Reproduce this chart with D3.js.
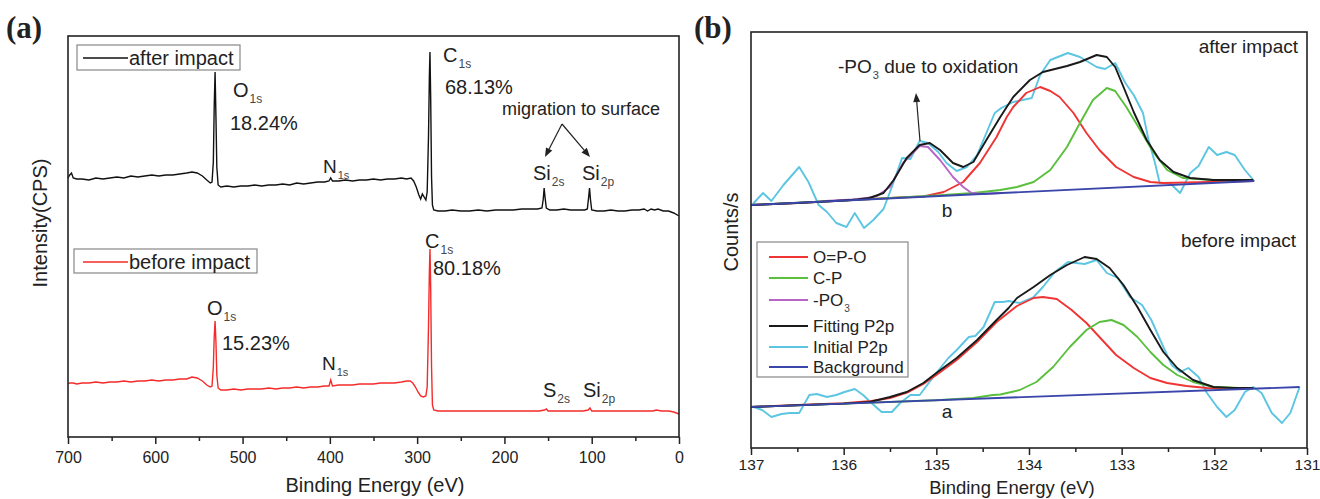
<!DOCTYPE html>
<html>
<head>
  <meta charset="UTF-8">
  <title>XPS survey and P2p spectra</title>
  <script src="https://d3js.org/d3.v7.min.js"></script>
  <style>
    body { margin: 0; background: #fff; }
    svg text { font-family: "Liberation Sans", Arial, sans-serif; fill: #222; }
  </style>
</head>
<body>
<div id="chart"></div>
<script>
// ---- panel (a): survey spectra [binding energy eV, intensity a.u.] ----
const afterSurvey = [
  [700,259],[698,262],[696,264],[694,259],[690,258],[684,258],[676,257],[668,259],[660,258],[652,259],[644,260],[636,259],
  [628,261],[620,260],[612,261],[604,262],[596,261],[588,262],[580,262],[572,263],[564,264],[558,265],[552,264],[546,261],
  [541,257],[537,254],[535,255],[533.5,275],[532.5,330],[531.5,365],[530.5,320],[529.5,270],[528,252],[525,250],[518,251],
  [510,250],[502,251],[494,251],[486,252],[478,251],[470,252],[462,252],[454,253],[446,252],[438,254],[430,253],[422,254],
  [414,255],[406,255],[401,256],[399,259],[397,256],[390,256],[382,257],[374,256],[366,257],[358,257],[350,258],[342,257],
  [334,258],[326,258],[318,259],[312,258],[307,259],[304,256],[301,250],[298,242],[296,238],[294,243],[292,240],[290,237],
  [288.5,245],[287,300],[286,360],[285.3,385],[284.5,340],[283.5,260],[282.5,232],[281,227],[276,226],[268,226],[260,227],
  [250,226],[240,226],[230,227],[220,226],[210,227],[200,227],[190,227],[180,228],[170,228],[162,228],[157,229],[155.5,238],
  [154.5,249],[153.5,240],[152,229],[148,227],[140,227],[132,228],[124,227],[116,227],[108,227],[105,228],[103.5,240],
  [102.5,249],[101.5,238],[100,227],[94,226],[86,226],[78,227],[70,226],[62,226],[54,227],[46,227],[40,228],[36,226],
  [32,228],[28,227],[24,228],[18,226],[12,226],[6,224],[0,221]
];
const beforeSurvey = [
  [700,53],[698,54],[694,54],[690,53],[684,54],[676,54],[668,55],[660,54],[652,55],[644,55],[636,56],[628,55],[620,56],
  [612,56],[604,57],[596,56],[588,57],[580,57],[572,58],[564,58],[558,60],[552,59],[546,56],[541,52],[537,50],[535,51],
  [533.5,70],[532.5,100],[531.5,116],[530.5,95],[529.5,62],[528,49],[525,47],[518,47],[510,48],[502,47],[494,48],[486,48],
  [478,48],[470,49],[462,48],[454,49],[446,49],[438,50],[430,49],[422,50],[414,50],[406,51],[401,51],[399,57],[397,51],
  [390,52],[382,52],[374,52],[366,53],[358,53],[350,53],[342,54],[334,54],[326,54],[318,55],[312,56],[308,56],[305,54],
  [302,50],[299,45],[296,41],[293,40],[290,41],[288.5,50],[287,110],[286,165],[285.3,188],[284.5,150],[283.5,70],[282.5,32],
  [281,27],[276,26],[268,26],[260,26],[250,26],[240,26],[230,26],[220,26],[210,26],[200,26],[190,26],[180,26],[170,26],
  [160,26],[154,27],[152,28],[150,26],[140,26],[130,26],[120,26],[110,26],[104,27],[102,29],[100,26],[90,26],[80,26],
  [70,26],[60,26],[50,26],[40,26],[30,26],[26,27],[20,26],[12,26],[6,25],[0,23]
];
const surveyMajorTicks = [700, 600, 500, 400, 300, 200, 100, 0];
const surveyMinorTicks = [650, 550, 450, 350, 250, 150, 50];

// ---- panel (b): P2p high resolution [binding energy eV, counts a.u.] ----
const cyanAfter = [
  [136.98,244],[136.87,255],[136.78,247],[136.65,263],[136.48,281],[136.38,266],[136.27,243],[136.18,236],[136.08,225],
  [135.97,221],[135.88,235],[135.78,220],[135.68,228],[135.57,239],[135.48,261],[135.37,290],[135.28,289],[135.18,307],
  [135.09,305],[134.98,296],[134.89,285],[134.78,277],[134.67,281],[134.56,293],[134.46,315],[134.37,335],[134.3,340],
  [134.17,346],[133.97,350],[133.88,373],[133.77,388],[133.58,395],[133.45,391],[133.27,381],[133.18,379],[133.07,385],
  [132.96,365],[132.87,353],[132.77,335],[132.71,308],[132.64,285],[132.59,265],[132.48,265],[132.37,255],[132.26,275],
  [132.17,282],[132.06,301],[131.97,293],[131.87,296],[131.78,293],[131.67,278],[131.57,267]
];
const fitAfter = [
  [137,243],[136.5,245],[136,247.5],[135.85,248.5],[135.72,250],[135.57,255],[135.46,268],[135.32,290],[135.18,303],
  [135.07,305],[134.96,298],[134.82,285],[134.71,281],[134.6,286],[134.46,308],[134.31,331],[134.17,351],[133.99,368],
  [133.85,376],[133.59,382],[133.45,386],[133.27,393],[133.16,391],[133.07,381],[132.98,361],[132.87,336],[132.73,308],
  [132.59,288],[132.44,276],[132.26,270],[132.01,268],[131.58,268]
];
const opoAfter = [
  [137,243],[136.5,245],[136,247.5],[135.6,249.5],[135.4,250.5],[135.14,251.5],[134.92,256],[134.71,266],[134.53,285],
  [134.35,311],[134.24,331],[134.17,341],[134.03,355],[133.88,361],[133.77,357],[133.67,351],[133.52,335],[133.38,315],
  [133.24,298],[133.06,281],[132.87,271],[132.69,266],[132.55,265],[132.3,265.5],[131.57,267]
];
const cpAfter = [
  [137,243],[136,247.5],[135.5,250],[135,252.5],[134.6,255],[134.31,258],[134.13,261],[133.95,266],[133.77,278],
  [133.59,301],[133.45,325],[133.31,348],[133.16,360],[133.07,357],[132.95,341],[132.8,318],[132.66,296],[132.51,278],
  [132.34,270],[132.01,268],[131.58,267]
];
const po3After = [
  [136.2,247],[135.9,248.5],[135.75,250],[135.64,252],[135.5,261],[135.36,285],[135.18,302],[135.09,301],[134.96,288],
  [134.82,271],[134.71,261],[134.62,255],[134.49,254],[134.3,255]
];
const bgAfter = [[137,243],[131.57,267]];

const cyanBefore = [
  [136.97,41],[136.88,38],[136.78,31],[136.67,34],[136.58,35],[136.48,35],[136.37,53],[136.29,54],[136.18,51],[136.08,53],
  [135.99,56],[135.88,59],[135.79,53],[135.7,45],[135.59,36],[135.48,36],[135.39,45],[135.28,53],[135.18,53],[135,75],
  [134.87,90],[134.78,98],[134.65,111],[134.58,112],[134.49,121],[134.37,146],[134.28,146],[134.22,147],[134.1,145],
  [133.95,151],[133.85,161],[133.72,176],[133.58,186],[133.4,184],[133.27,188],[133.16,175],[133.04,170],[132.91,151],
  [132.78,143],[132.68,128],[132.55,101],[132.46,83],[132.37,76],[132.28,80],[132.17,71],[132.08,55],[131.97,41],
  [131.87,31],[131.78,38],[131.67,56],[131.58,61],[131.49,55],[131.38,35],[131.27,25],[131.18,35],[131.08,61]
];
const fitBefore = [
  [137,41],[136.5,42.7],[136,44.4],[135.72,46],[135.5,51],[135.32,56],[135.14,65],[135,75],[134.78,90],[134.56,108],
  [134.35,128],[134.22,140],[134.13,150],[133.95,161],[133.77,173],[133.59,183],[133.4,191],[133.27,189],[133.13,180],
  [132.98,163],[132.83,141],[132.69,118],[132.55,96],[132.4,80],[132.23,68],[132.01,61],[131.79,60],[131.58,60]
];
const opoBefore = [
  [137,41],[136.5,43],[136,44.8],[135.7,47],[135.5,50],[135.3,56],[135.14,64],[135,73],[134.78,88],[134.56,106],
  [134.35,126],[134.13,142],[133.95,150],[133.85,151],[133.7,149],[133.54,138],[133.38,125],[133.24,111],[133.06,93],
  [132.87,80],[132.69,70],[132.51,65],[132.3,62],[132.08,60],[131.58,59.5]
];
const cpBefore = [
  [137,41],[136,44.4],[135,47.8],[134.6,50],[134.39,53],[134.31,53.5],[134.1,58],[133.92,66],[133.74,81],[133.56,101],
  [133.38,118],[133.24,126],[133.11,128],[132.98,123],[132.83,111],[132.69,96],[132.55,83],[132.4,73],[132.23,66],
  [132.01,61],[131.58,59.5]
];
const bgBefore = [[137,41],[131.08,61]];

const p2pMajorTicks = [137, 136, 135, 134, 133, 132, 131];
const p2pMinorTicks = [136.5, 135.5, 134.5, 133.5, 132.5, 131.5];
const legendNames = ["O=P-O", "C-P", "-PO", "Fitting P2p", "Initial P2p", "Background"];
const legendColors = ["#f03434", "#5abf3c", "#b866c6", "#1a1a1a", "#5cc6e2", "#3a46aa"];

const svg = d3.select("#chart").append("svg")
  .attr("width", 1320)
  .attr("height", 499);

// shared helper: element name with subscript
function subLabel(g, x, y, main, sub, size, anchor) {
  const t = g.append("text")
    .attr("x", x).attr("y", y)
    .style("font-size", size + "px")
    .attr("text-anchor", anchor || "start");
  t.append("tspan").text(main);
  t.append("tspan").text(sub)
    .style("font-size", Math.round(size * 0.58) + "px")
    .style("fill", "#444")
    .attr("dx", 1).attr("dy", 6);
  return t;
}

function bottomAxis(g, x, yPos, major, minor, pad, size) {
  g.append("g")
    .attr("transform", "translate(0," + yPos + ")")
    .call(d3.axisBottom(x).tickValues(minor).tickSize(4).tickFormat(""))
    .call(a => a.select(".domain").remove());
  const ax = g.append("g")
    .attr("transform", "translate(0," + yPos + ")")
    .call(d3.axisBottom(x).tickValues(major).tickSize(7).tickPadding(pad).tickFormat(d3.format("d")));
  ax.select(".domain").remove();
  ax.selectAll("text").style("font-size", size + "px").attr("fill", "#222")
    .style("font-family", '"Liberation Sans", Arial, sans-serif');
  g.selectAll("g.tick line").attr("stroke", "#222").attr("stroke-width", 1.5);
}

function arrowHead(g, x1, y1, x2, y2) {
  const ang = Math.atan2(y2 - y1, x2 - x1);
  const L = 9, W = 3.5;
  const bx = x2 - L * Math.cos(ang), by = y2 - L * Math.sin(ang);
  const px = -Math.sin(ang) * W, py = Math.cos(ang) * W;
  g.append("line").attr("x1", x1).attr("y1", y1).attr("x2", bx).attr("y2", by)
    .attr("stroke", "#222").attr("stroke-width", 1.2);
  g.append("path")
    .attr("d", `M${x2},${y2}L${bx + px},${by + py}L${bx - px},${by - py}Z`)
    .attr("fill", "#222");
}

// ================= panel (a) =================
const ga = svg.append("g");
const xa = d3.scaleLinear().domain([700, 0]).range([68, 679]);
const ya = d3.scaleLinear().domain([0, 401]).range([437, 36]);
const lineA = d3.line().x(d => xa(d[0])).y(d => ya(d[1]));

ga.append("path").datum(beforeSurvey).attr("d", lineA)
  .attr("fill", "none").attr("stroke", "#f52a2a").attr("stroke-width", 1.4);
ga.append("path").datum(afterSurvey).attr("d", lineA)
  .attr("fill", "none").attr("stroke", "#111").attr("stroke-width", 1.4);

ga.append("rect").attr("x", 68).attr("y", 36).attr("width", 611).attr("height", 401)
  .attr("fill", "none").attr("stroke", "#222").attr("stroke-width", 1.6);
bottomAxis(ga, xa, 437, surveyMajorTicks, surveyMinorTicks, 8, 16);

ga.append("text").attr("x", 375).attr("y", 492).attr("text-anchor", "middle")
  .style("font-size", "20px").text("Binding Energy (eV)");
ga.append("text").attr("transform", "translate(47,223) rotate(-90)")
  .attr("text-anchor", "middle").style("font-size", "20px").text("Intensity(CPS)");
ga.append("text").attr("x", 6).attr("y", 38)
  .style("font-family", '"Liberation Serif", "Times New Roman", serif')
  .style("font-weight", "bold").style("font-size", "31px").text("(a)");

// legends
[[77, 45, 163, 25, 58, 65, "#111", "after impact"], [74, 249, 183, 24, 262, 269, "#f52a2a", "before impact"]]
  .forEach(function(l) {
    ga.append("rect").attr("x", l[0]).attr("y", l[1]).attr("width", l[2]).attr("height", l[3])
      .attr("fill", "#fff").attr("stroke", "#888").attr("stroke-width", 1.2);
    ga.append("line").attr("x1", 83).attr("x2", 128).attr("y1", l[4]).attr("y2", l[4])
      .attr("stroke", l[6]).attr("stroke-width", 1.5);
    ga.append("text").attr("x", 129).attr("y", l[5]).style("font-size", "20px").text(l[7]);
  });

// peak labels (after)
subLabel(ga, 233, 97, "O", "1s", 20);
ga.append("text").attr("x", 230).attr("y", 130).style("font-size", "20px").text("18.24%");
subLabel(ga, 323, 173, "N", "1s", 19);
subLabel(ga, 443, 62, "C", "1s", 20);
ga.append("text").attr("x", 445).attr("y", 94).style("font-size", "20px").text("68.13%");
ga.append("text").attr("x", 502).attr("y", 115).style("font-size", "18px").text("migration to surface");
arrowHead(ga, 562, 124, 545, 157);
arrowHead(ga, 562, 124, 590, 157);
subLabel(ga, 533, 180, "Si", "2s", 20);
subLabel(ga, 582, 180, "Si", "2p", 20);

// peak labels (before)
subLabel(ga, 425, 248, "C", "1s", 20);
ga.append("text").attr("x", 433).attr("y", 275).style("font-size", "20px").text("80.18%");
subLabel(ga, 207, 315, "O", "1s", 20);
ga.append("text").attr("x", 222).attr("y", 350).style("font-size", "20px").text("15.23%");
subLabel(ga, 322, 370, "N", "1s", 19);
subLabel(ga, 543, 397, "S", "2s", 20);
subLabel(ga, 583, 397, "Si", "2p", 20);

// ================= panel (b) =================
const gb = svg.append("g");
const xb = d3.scaleLinear().domain([137, 131]).range([751, 1307]);
const yb = d3.scaleLinear().domain([0, 416]).range([448, 32]);
const lineB = d3.line().x(d => xb(d[0])).y(d => yb(d[1]));

const seriesB = [
  [cyanBefore, 4], [opoBefore, 0], [cpBefore, 1], [fitBefore, 3], [bgBefore, 5],
  [cyanAfter, 4], [opoAfter, 0], [cpAfter, 1], [po3After, 2], [fitAfter, 3], [bgAfter, 5]
];
seriesB.forEach(function(s) {
  gb.append("path").datum(s[0]).attr("d", lineB)
    .attr("fill", "none").attr("stroke", legendColors[s[1]])
    .attr("stroke-width", 1.9).attr("stroke-linejoin", "round");
});

gb.append("rect").attr("x", 751).attr("y", 32).attr("width", 556).attr("height", 416)
  .attr("fill", "none").attr("stroke", "#222").attr("stroke-width", 1.6);
bottomAxis(gb, xb, 448, p2pMajorTicks, p2pMinorTicks, 4, 15.5);

gb.append("text").attr("x", 1012).attr("y", 494).attr("text-anchor", "middle")
  .style("font-size", "18.5px").text("Binding Energy (eV)");
gb.append("text").attr("transform", "translate(738,232) rotate(-90)")
  .attr("text-anchor", "middle").style("font-size", "20px").text("Counts/s");
gb.append("text").attr("x", 694).attr("y", 38)
  .style("font-family", '"Liberation Serif", "Times New Roman", serif')
  .style("font-weight", "bold").style("font-size", "31px").text("(b)");

// legend
gb.append("rect").attr("x", 757).attr("y", 242).attr("width", 151).attr("height", 135)
  .attr("fill", "#fff").attr("stroke", "#888").attr("stroke-width", 1.2);
const legendY = [257, 278, 300, 326, 347, 367];
legendNames.forEach(function(name, i) {
  gb.append("line").attr("x1", 769).attr("x2", 808).attr("y1", legendY[i]).attr("y2", legendY[i])
    .attr("stroke", legendColors[i]).attr("stroke-width", 1.9);
  if (i === 2) {
    subLabel(gb, 813, legendY[i] + 6, name, "3", 17);
  } else {
    gb.append("text").attr("x", 813).attr("y", legendY[i] + 6).style("font-size", "17px").text(name);
  }
});

// annotations
gb.append("text").attr("x", 1298).attr("y", 53).attr("text-anchor", "end")
  .style("font-size", "19px").text("after impact");
gb.append("text").attr("x", 1296).attr("y", 247).attr("text-anchor", "end")
  .style("font-size", "19px").text("before impact");
const po3Note = subLabel(gb, 838, 73, "-PO", "3", 19);
po3Note.append("tspan").attr("dy", -6).text(" due to oxidation");
arrowHead(gb, 920, 141, 916, 93);
gb.append("text").attr("x", 947).attr("y", 217).attr("text-anchor", "middle")
  .style("font-size", "19px").text("b");
gb.append("text").attr("x", 947).attr("y", 418).attr("text-anchor", "middle")
  .style("font-size", "19px").text("a");
</script>
</body>
</html>
